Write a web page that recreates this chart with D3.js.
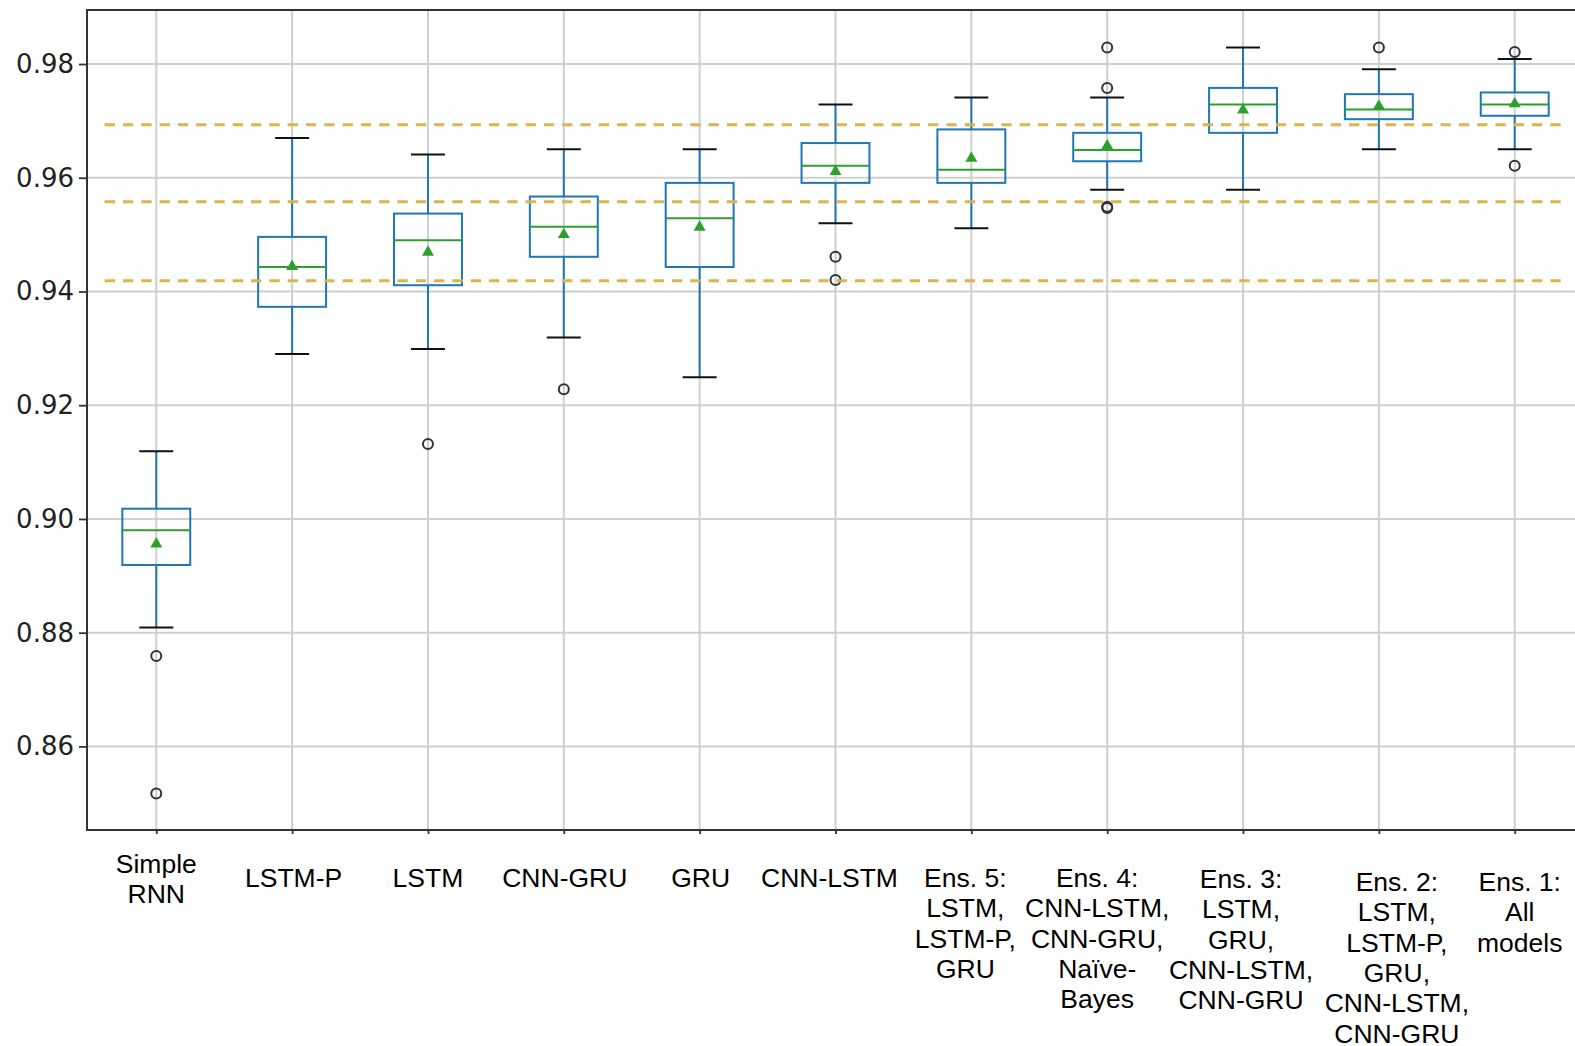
<!DOCTYPE html>
<html>
<head>
<meta charset="utf-8">
<script src="https://cdn.jsdelivr.net/npm/d3@7"></script>
<style>
  body { margin: 0; background: #fff; }
</style>
</head>
<body>
<div id="chart"></div>
<script>
// Categories (one box per model / ensemble)
const categories = ["Simple RNN", "LSTM-P", "LSTM", "CNN-GRU", "GRU", "CNN-LSTM",
    "Ens. 5", "Ens. 4", "Ens. 3", "Ens. 2", "Ens. 1"];

// Tick labels, one array of lines per category
const tickLabels = [
    ["Simple", "RNN"],
    ["LSTM-P"],
    ["LSTM"],
    ["CNN-GRU"],
    ["GRU"],
    ["CNN-LSTM"],
    ["Ens. 5:", "LSTM,", "LSTM-P,", "GRU"],
    ["Ens. 4:", "CNN-LSTM,", "CNN-GRU,", "Naïve-", "Bayes"],
    ["Ens. 3:", "LSTM,", "GRU,", "CNN-LSTM,", "CNN-GRU"],
    ["Ens. 2:", "LSTM,", "LSTM-P,", "GRU,", "CNN-LSTM,", "CNN-GRU"],
    ["Ens. 1:", "All", "models"]
];

// Box statistics
const whiskerLow  = [0.8809, 0.9290, 0.9299, 0.9319, 0.9249, 0.9520, 0.9511, 0.9579, 0.9579, 0.9650, 0.9650];
const q1          = [0.8919, 0.9373, 0.9411, 0.9461, 0.9443, 0.9591, 0.9591, 0.9629, 0.9679, 0.9703, 0.9709];
const medians     = [0.8980, 0.9443, 0.9490, 0.9514, 0.9529, 0.9621, 0.9614, 0.9649, 0.9729, 0.9720, 0.9729];
const q3          = [0.9018, 0.9496, 0.9537, 0.9567, 0.9591, 0.9661, 0.9685, 0.9679, 0.9758, 0.9747, 0.9750];
const whiskerHigh = [0.9119, 0.9670, 0.9641, 0.9650, 0.9650, 0.9729, 0.9741, 0.9741, 0.9829, 0.9791, 0.9809];
const means       = [0.8956, 0.9444, 0.9469, 0.9500, 0.9513, 0.9611, 0.9634, 0.9656, 0.9719, 0.9726, 0.9730];
const outliers = [
    [0.8759, 0.8517],
    [],
    [0.9132],
    [0.9228],
    [],
    [0.9461, 0.9420],
    [],
    [0.9829, 0.9758, 0.9549, 0.9547],
    [],
    [0.9829],
    [0.9821, 0.9621]
];

// Horizontal reference lines
const refValues = [0.9693, 0.9558, 0.9419];
const refSpan = [0.62, 11.35];

// Y ticks
const yTicks = [0.86, 0.88, 0.90, 0.92, 0.94, 0.96, 0.98];

// Layout
const width = 1575, height = 1046;
const plot = { left: 87, top: 10, right: 1584, bottom: 830 };
const labelDx = [0, 1.5, 0, 1, 1, -6, -6, -10, -2, 18, 5];
const labelBaseline = [872.7, 886.7, 886.7, 886.7, 886.7, 886.7, 886.7, 886.7, 887.7, 890.7, 890.7];
const lineHeight = 30.4;

const svg = d3.select("#chart")
    .append("svg")
    .attr("width", width)
    .attr("height", height);

// Scales
const xScale = d3.scaleLinear().domain([0.49, 11.51]).range([plot.left, plot.right]);
const yScale = d3.scaleLinear().domain([0.8453, 0.9895]).range([plot.bottom, plot.top]);
const boxW = xScale(1.5) - xScale(1);
const capW = xScale(1.25) - xScale(1);

const positions = categories.map((d, i) => i + 1);

// Grid
svg.append("g")
    .selectAll("line")
    .data(yTicks)
    .join("line")
    .attr("x1", plot.left).attr("x2", plot.right)
    .attr("y1", d => yScale(d)).attr("y2", d => yScale(d))
    .attr("stroke", "#cfcfcf")
    .attr("stroke-width", 2);

svg.append("g")
    .selectAll("line")
    .data(positions)
    .join("line")
    .attr("x1", d => xScale(d)).attr("x2", d => xScale(d))
    .attr("y1", plot.top).attr("y2", plot.bottom)
    .attr("stroke", "#cfcfcf")
    .attr("stroke-width", 2);

// Axes
const yAxis = d3.axisLeft(yScale).tickValues(yTicks).tickFormat(d3.format(".2f"))
    .tickSize(8).tickPadding(5).tickSizeOuter(0);
const gy = svg.append("g")
    .attr("transform", `translate(${plot.left},0)`)
    .call(yAxis);
gy.select(".domain").remove();
gy.selectAll(".tick line").attr("stroke", "#333").attr("stroke-width", 1.8);
gy.selectAll(".tick text")
    .style("font-family", "DejaVu Sans")
    .style("font-size", "26px")
    .attr("fill", "#222");

const xAxis = d3.axisBottom(xScale).tickValues(positions).tickFormat("").tickSize(4).tickSizeOuter(0);
const gx = svg.append("g")
    .attr("transform", `translate(0,${plot.bottom})`)
    .call(xAxis);
gx.select(".domain").remove();
gx.selectAll(".tick line").attr("stroke", "#333").attr("stroke-width", 1.8);

// Spines
svg.append("rect")
    .attr("x", plot.left).attr("y", plot.top)
    .attr("width", plot.right - plot.left).attr("height", plot.bottom - plot.top)
    .attr("fill", "none")
    .attr("stroke", "#333")
    .attr("stroke-width", 2);

// Multi-line category labels
const labels = svg.append("g")
    .selectAll("text")
    .data(tickLabels)
    .join("text")
    .attr("text-anchor", "middle")
    .style("font-family", "'Liberation Sans', Arial, sans-serif")
    .style("font-size", "26.5px")
    .attr("fill", "#000");
labels.each(function (lines, i) {
    d3.select(this).selectAll("tspan")
        .data(lines)
        .join("tspan")
        .attr("x", xScale(i + 1) + labelDx[i])
        .attr("y", (d, j) => labelBaseline[i] + j * lineHeight)
        .text(d => d);
});

// Boxes
const boxes = svg.append("g")
    .selectAll("g")
    .data(positions)
    .join("g");

// whiskers
boxes.append("line")
    .attr("x1", d => xScale(d)).attr("x2", d => xScale(d))
    .attr("y1", (d, i) => yScale(q1[i])).attr("y2", (d, i) => yScale(whiskerLow[i]))
    .attr("stroke", "#1f77b4").attr("stroke-width", 2);
boxes.append("line")
    .attr("x1", d => xScale(d)).attr("x2", d => xScale(d))
    .attr("y1", (d, i) => yScale(q3[i])).attr("y2", (d, i) => yScale(whiskerHigh[i]))
    .attr("stroke", "#1f77b4").attr("stroke-width", 2);

// caps
boxes.append("line")
    .attr("x1", d => xScale(d) - capW / 2).attr("x2", d => xScale(d) + capW / 2)
    .attr("y1", (d, i) => yScale(whiskerLow[i])).attr("y2", (d, i) => yScale(whiskerLow[i]))
    .attr("stroke", "#111").attr("stroke-width", 2);
boxes.append("line")
    .attr("x1", d => xScale(d) - capW / 2).attr("x2", d => xScale(d) + capW / 2)
    .attr("y1", (d, i) => yScale(whiskerHigh[i])).attr("y2", (d, i) => yScale(whiskerHigh[i]))
    .attr("stroke", "#111").attr("stroke-width", 2);

// box
boxes.append("rect")
    .attr("x", d => xScale(d) - boxW / 2)
    .attr("width", boxW)
    .attr("y", (d, i) => yScale(q3[i]))
    .attr("height", (d, i) => yScale(q1[i]) - yScale(q3[i]))
    .attr("fill", "none")
    .attr("stroke", "#1f77b4").attr("stroke-width", 2);

// median
boxes.append("line")
    .attr("x1", d => xScale(d) - boxW / 2).attr("x2", d => xScale(d) + boxW / 2)
    .attr("y1", (d, i) => yScale(medians[i])).attr("y2", (d, i) => yScale(medians[i]))
    .attr("stroke", "#2ca02c").attr("stroke-width", 2);

// mean marker
boxes.append("path")
    .attr("d", d3.symbol(d3.symbolTriangle, 62))
    .attr("transform", (d, i) => `translate(${xScale(d)},${yScale(means[i])})`)
    .attr("fill", "#2ca02c");

// fliers
boxes.each(function (d, i) {
    d3.select(this).selectAll("circle")
        .data(outliers[i])
        .join("circle")
        .attr("cx", xScale(d))
        .attr("cy", v => yScale(v))
        .attr("r", 5)
        .attr("fill", "none")
        .attr("stroke", "#333")
        .attr("stroke-width", 2);
});

// Dashed reference lines
svg.append("g")
    .selectAll("line")
    .data(refValues)
    .join("line")
    .attr("x1", xScale(refSpan[0])).attr("x2", xScale(refSpan[1]))
    .attr("y1", d => yScale(d)).attr("y2", d => yScale(d))
    .attr("stroke", "#dbb44c")
    .attr("stroke-width", 3)
    .attr("stroke-dasharray", "10.3,8");
</script>
</body>
</html>
